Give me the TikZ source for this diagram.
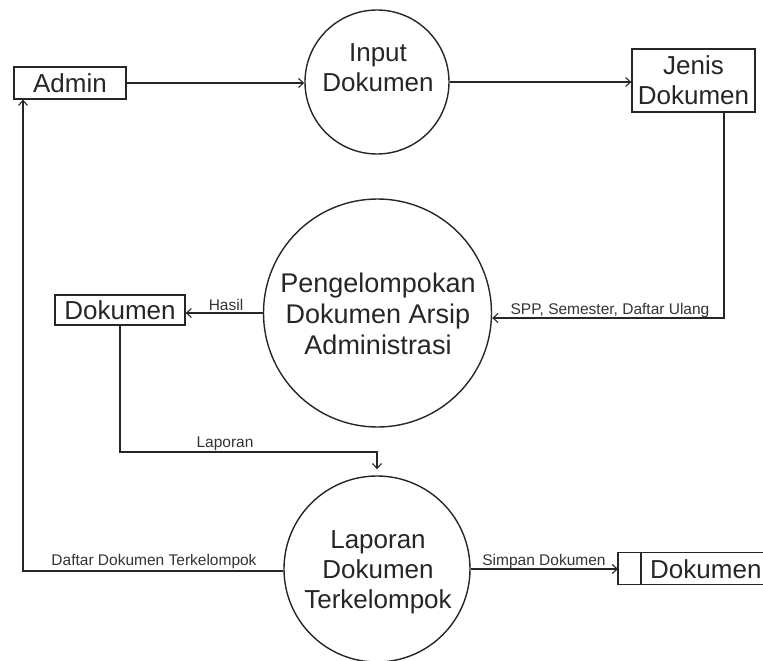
\documentclass[tikz,border=0pt]{standalone}
\usepackage{fontspec}
\setmainfont{Liberation Sans}
\usetikzlibrary{arrows.meta,calc}
\begin{document}
\begin{tikzpicture}[x=1pt,y=-1pt,
  big/.style={font=\fontsize{26}{30}\selectfont, align=center, text=black!85, inner sep=0pt},
  lbl/.style={font=\fontsize{15.5}{18}\selectfont, text=black!80, inner sep=0pt},
  proc/.style={draw=black!85, circle, line width=1.4pt, inner sep=0pt},
  ent/.style={draw=black!85, line width=1.3pt, inner sep=0pt},
  flow/.style={draw=black!85, line width=1.1pt, -{Straight Barb[length=5pt,width=9pt]}},
]
\useasboundingbox (0,0) rectangle (763,661);

% external entities
\node[ent, big, minimum width=112pt, minimum height=32pt] (admin) at (70,83) {Admin};
\node[ent, big, minimum width=123pt, minimum height=63pt] (jenis) at (693.5,80.5) {Jenis\\Dokumen};
\node[ent, big, minimum width=130pt, minimum height=30pt] (dok) at (120,310) {Dokumen};

% processes
\node[proc, minimum size=144pt] (inp) at (377,82) {};
\node[big] (inptxt) at (378,68) {Input\\Dokumen};
\node[proc, minimum size=228pt] (grp) at (377.5,313) {};
\node[big, font=\fontsize{27}{31}\selectfont] (grptxt) at (378,314) {Pengelompokan\\Dokumen Arsip\\Administrasi};
\node[proc, minimum size=186pt] (bot) at (377,569) {};
\node[big] (bottxt) at (378,572) {Laporan\\Dokumen\\Terkelompok};

% data store
\node[inner sep=0pt, minimum width=145pt, minimum height=31pt, anchor=west] (store) at (618,568.5) {};
\draw[ent] (store.north east) -- (store.north west) -- (store.south west) -- (store.south east);
\draw[ent] ($(store.north west)+(23,0)$) -- ($(store.south west)+(23,0)$);
\node[big, anchor=west] (storetxt) at (650,569) {Dokumen};

% flows
\draw[flow] (admin.east) -- (admin.east -| inp.west);
\draw[flow] (inp.east) -- (inp.east -| jenis.west);

\coordinate (c1) at (724,318);
\draw[flow] (jenis.south -| c1) -- (c1) -- (c1 -| grp.east);
\node[lbl] (l1) at (610,310) {SPP, Semester, Daftar Ulang};

\draw[flow] (grp.west) -- (grp.west -| dok.east);
\node[lbl] (l2) at (226,305) {Hasil};

\coordinate (c2) at (120,452);
\draw[flow, shorten >=6pt] (dok.south) -- (c2) -- (c2 -| bot.north) -- (bot.north);
\node[lbl] (l3) at (225,444) {Laporan};

\coordinate (c3) at (23,571);
\draw[flow] (bot.west |- c3) -- (c3) -- (c3 |- admin.south);
\node[lbl] (l4) at (154,561) {Daftar Dokumen Terkelompok};

\draw[flow] (bot.east) -- (bot.east -| store.west);
\node[lbl] (l5) at (544,561) {Simpan Dokumen};
\end{tikzpicture}
\end{document}
